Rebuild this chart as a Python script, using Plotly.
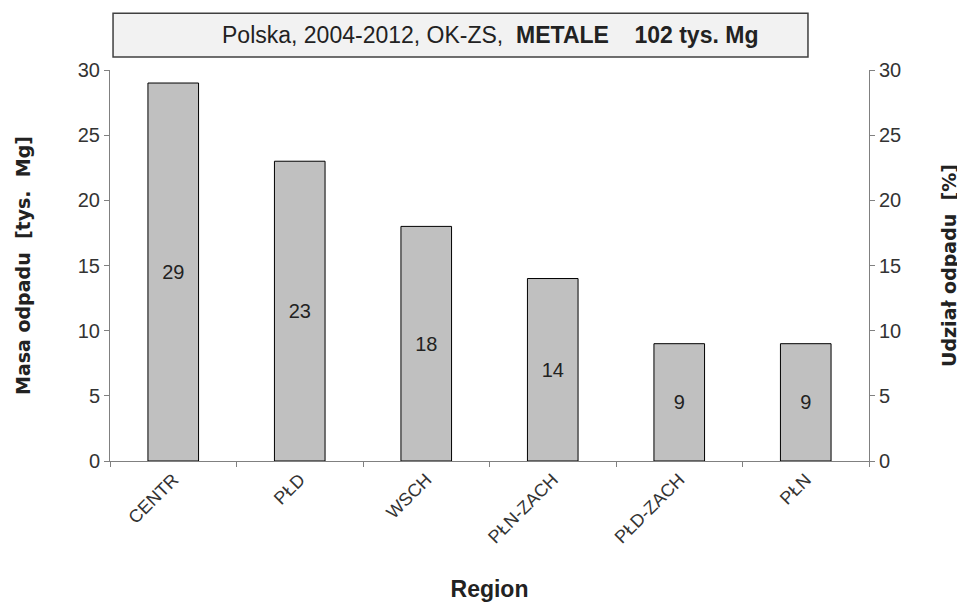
import plotly.graph_objects as go

regions = ["CENTR", "PŁD", "WSCH", "PŁN-ZACH", "PŁD-ZACH", "PŁN"]
mass = [29, 23, 18, 14, 9, 9]
y_ticks = [0, 5, 10, 15, 20, 25, 30]

FONT = "Liberation Sans, Arial, sans-serif"
BFONT = "DejaVu Sans, Liberation Sans, sans-serif"
AX = "#808080"
TXT = "#333333"

fig = go.Figure()
fig.add_trace(go.Bar(
    x=regions, y=mass, width=0.4,
    marker=dict(color="#c0c0c0", line=dict(color="#000000", width=1)),
    text=[str(v) for v in mass], textposition="inside", insidetextanchor="middle",
    textfont=dict(family=FONT, size=20, color="#222222"),
    showlegend=False, hoverinfo="skip",
))

fig.update_layout(
    width=965, height=602,
    margin=dict(l=102, r=104, t=62, b=145),
    paper_bgcolor="white", plot_bgcolor="white",
    font=dict(family=FONT, color=TXT),
    bargap=0.6,
    xaxis=dict(
        showline=True, linecolor=AX, linewidth=1,
        ticks="outside", tickson="boundaries", ticklen=5, tickcolor=AX,
        tickangle=-45, tickfont=dict(family=FONT, size=18, color=TXT),
        title=dict(text="<b>Region</b>", font=dict(family=FONT, size=23, color="#222222"), standoff=34),
        showgrid=False,
    ),
    yaxis=dict(
        range=[0, 30], tickvals=y_ticks, showline=True, linecolor=AX, linewidth=1,
        ticks="outside", ticklen=5, tickcolor=AX, showgrid=False, zeroline=False,
        tickfont=dict(family=FONT, size=20, color=TXT),
        title=dict(text="<b>Masa odpadu  [tys.  Mg]</b>", font=dict(family=BFONT, size=19, color="#222222"), standoff=42),
    ),
    yaxis2=dict(
        range=[0, 30], tickvals=y_ticks, overlaying="y", side="right",
        showline=True, linecolor=AX, linewidth=1,
        ticks="outside", ticklen=5, tickcolor=AX, showgrid=False, zeroline=False,
        tickfont=dict(family=FONT, size=20, color=TXT),
        title=dict(text="<b>Udział odpadu  [%]</b>", font=dict(family=BFONT, size=19, color="#222222"), standoff=42),
    ),
)

# invisible trace to activate the secondary axis
fig.add_trace(go.Scatter(x=regions, y=mass, yaxis="y2", mode="markers",
                         marker=dict(opacity=0), showlegend=False, hoverinfo="skip"))

# title box
fig.add_shape(type="rect", xref="paper", yref="paper",
              x0=0.004, x1=0.9196, y0=1.033, y1=1.145,
              fillcolor="#f2f2f2", line=dict(color="#404040", width=1.5), layer="above")
fig.add_annotation(xref="paper", yref="paper", x=0.5007, y=1.089, yanchor="middle", showarrow=False,
                   text="Polska, 2004-2012, OK-ZS,  <b>METALE    102 tys. Mg</b>",
                   font=dict(family=FONT, size=23, color="#222222"))

fig.write_html("out.html")
